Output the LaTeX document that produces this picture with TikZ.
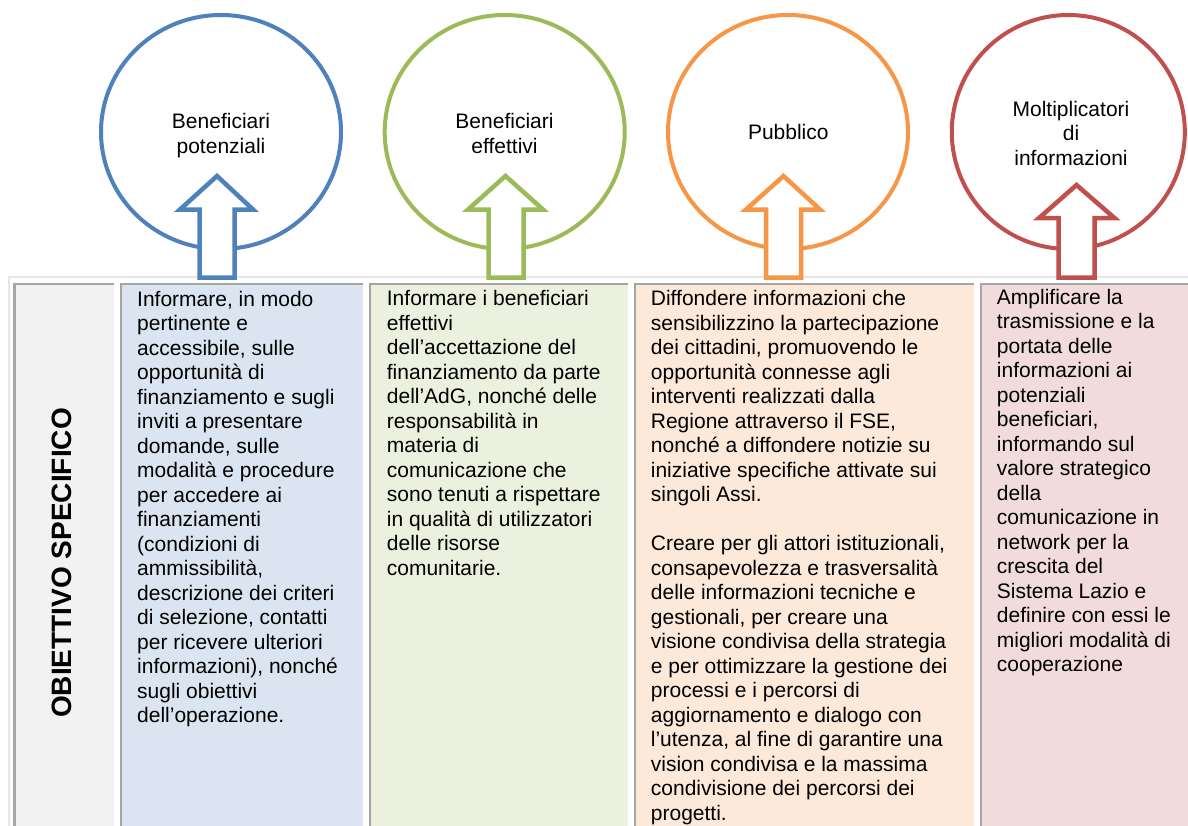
\documentclass[tikz,border=0pt]{standalone}
\usepackage{fontspec}
\setmainfont{Liberation Sans}
\usetikzlibrary{shapes.geometric}
\definecolor{cblue}{HTML}{4F81BD}
\definecolor{cgreen}{HTML}{9BBB59}
\definecolor{corange}{HTML}{F79646}
\definecolor{cred}{HTML}{C0504D}
\definecolor{fblue}{HTML}{DBE5F1}
\definecolor{fgreen}{HTML}{EBF1DE}
\definecolor{forange}{HTML}{FDE9D9}
\definecolor{fred}{HTML}{F2DCDB}
\definecolor{flabel}{HTML}{F2F2F2}
\definecolor{cellline}{HTML}{A5A5A5}
\definecolor{frameline}{HTML}{E6E6E6}
\newcommand{\firstln}{\rule{0pt}{16pt}}
\begin{document}
\begin{tikzpicture}[x=1pt,y=-1pt,
  circ/.style={ellipse, line width=4pt, inner sep=0pt, minimum height=234pt},
  circtext/.style={anchor=north, inner sep=0pt, align=center, font=\fontsize{21}{24.5}\selectfont},
  body/.style={anchor=north west, inner sep=0pt, align=left, font=\fontsize{21}{24.5}\selectfont},
  blockarrow/.style={line width=4.5pt, fill=white},
  cellborder/.style={draw=cellline, line width=2.6pt},
  outerframe/.style={draw=frameline, line width=2pt}]
\useasboundingbox (0,0) rectangle (1188,825);
\fill[white] (0,0) rectangle (1188,825);

% circles
\node[circ, draw=cblue, minimum width=240pt] (c1) at (221,132) {};
\node[circ, draw=cgreen, minimum width=240pt] (c2) at (504.7,132) {};
\node[circ, draw=corange, minimum width=240pt] (c3) at (788,132) {};
\node[circ, draw=cred, minimum width=233pt] (c4) at (1068.3,132) {};

\node[circtext] (t1) at (221,112.7) {\firstln Beneficiari\\potenziali};
\node[circtext] (t2) at (504.5,112.7) {\firstln Beneficiari\\effettivi};
\node[circtext] (t3) at (788.3,123.3) {\firstln Pubblico};
\node[circtext] (t4) at (1071,100) {\firstln Moltiplicatori\\di\\informazioni};

% outer frame
\draw[outerframe] (8.5,826) -- (8.5,276.5) -- (1189,276.5);

% cells
\fill[flabel] (14.5,284) rectangle (114,826);
\draw[cellborder] (14.5,826) -- (14.5,284) -- (114,284);
\fill[fblue] (121,284) rectangle (363,826);
\draw[cellborder] (121,826) -- (121,284) -- (363,284);
\fill[fgreen] (370,284) rectangle (628,826);
\draw[cellborder] (370,826) -- (370,284) -- (628,284);
\fill[forange] (635,284) rectangle (974,826);
\draw[cellborder] (635,826) -- (635,284) -- (974,284);
\fill[fred] (981,284) rectangle (1189,826);
\draw[cellborder] (981,826) -- (981,284) -- (1189,284);

% arrows
\draw[blockarrow, draw=cblue] (217,176) -- (253,209.5) -- (234.5,209.5) -- (234.5,277.5) -- (199.5,277.5) -- (199.5,209.5) -- (180,209.5) -- cycle;
\draw[blockarrow, draw=cgreen] (505.5,176) -- (543,209.5) -- (523.5,209.5) -- (523.5,277.5) -- (488.5,277.5) -- (488.5,209.5) -- (468,209.5) -- cycle;
\draw[blockarrow, draw=corange] (783.5,176) -- (820,209.5) -- (801,209.5) -- (801,277.5) -- (766,277.5) -- (766,209.5) -- (746,209.5) -- cycle;
\draw[blockarrow, draw=cred] (1076.5,185) -- (1114.5,218) -- (1094.5,218) -- (1094.5,277.5) -- (1058.5,277.5) -- (1058.5,218) -- (1039,218) -- cycle;

% label
\node[rotate=90, inner sep=0pt, font=\fontsize{28}{30}\selectfont\bfseries] (lab) at (62,563) {OBIETTIVO SPECIFICO};

% column texts
\node[body] (b1) at (137,290) {\firstln Informare, in modo\\pertinente e\\accessibile, sulle\\opportunità di\\finanziamento e sugli\\inviti a presentare\\domande, sulle\\modalità e procedure\\per accedere ai\\finanziamenti\\(condizioni di\\ammissibilità,\\descrizione dei criteri\\di selezione, contatti\\per ricevere ulteriori\\informazioni), nonché\\sugli obiettivi\\dell’operazione.};
\node[body] (b2) at (386.7,289.5) {\firstln Informare i beneficiari\\effettivi\\dell’accettazione del\\finanziamento da parte\\dell’AdG, nonché delle\\responsabilità in\\materia di\\comunicazione che\\sono tenuti a rispettare\\in qualità di utilizzatori\\delle risorse\\comunitarie.};
\node[body] (b3) at (650.7,289.5) {\firstln Diffondere informazioni che\\sensibilizzino la partecipazione\\dei cittadini, promuovendo le\\opportunità connesse agli\\interventi realizzati dalla\\Regione attraverso il FSE,\\nonché a diffondere notizie su\\iniziative specifiche attivate sui\\singoli Assi.\\[24.5pt]Creare per gli attori istituzionali,\\consapevolezza e trasversalità\\delle informazioni tecniche e\\gestionali, per creare una\\visione condivisa della strategia\\e per ottimizzare la gestione dei\\processi e i percorsi di\\aggiornamento e dialogo con\\l’utenza, al fine di garantire una\\vision condivisa e la massima\\condivisione dei percorsi dei\\progetti.};
\node[body] (b4) at (996.7,288) {\firstln Amplificare la\\trasmissione e la\\portata delle\\informazioni ai\\potenziali\\beneficiari,\\informando sul\\valore strategico\\della\\comunicazione in\\network per la\\crescita del\\Sistema Lazio e\\definire con essi le\\migliori modalità di\\cooperazione};
\end{tikzpicture}
\end{document}
